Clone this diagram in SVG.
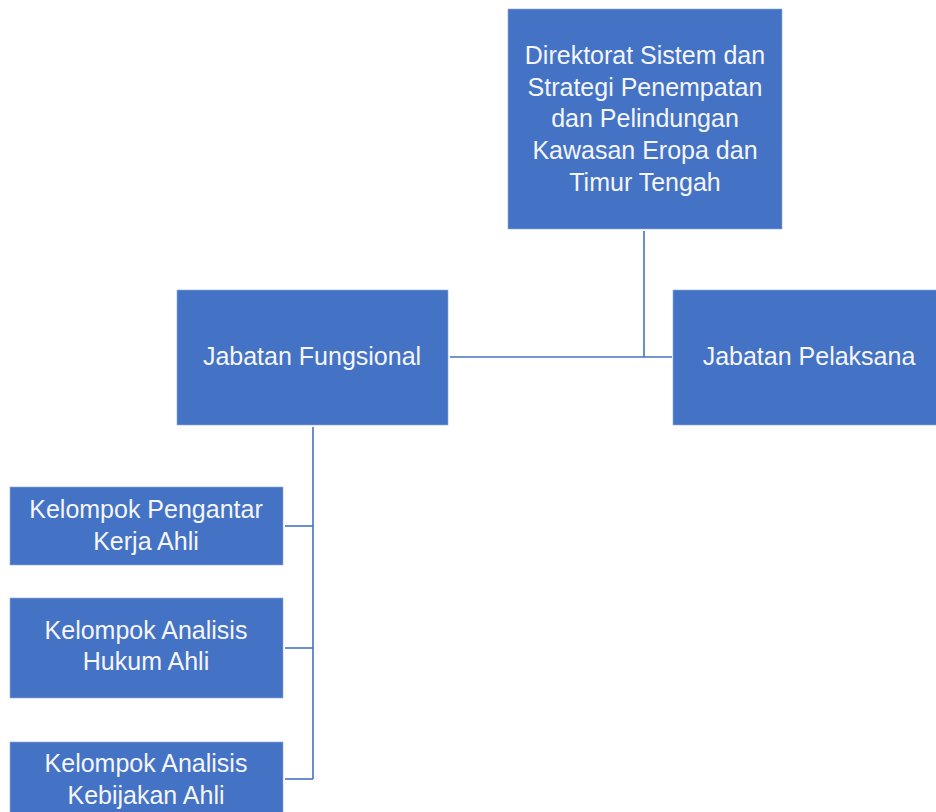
<svg xmlns="http://www.w3.org/2000/svg" width="936" height="812" viewBox="0 0 936 812">
<style>
.box{fill:#4472C4;stroke:#8FAADC;stroke-width:0.6}
.t{font-family:"Liberation Sans","Noto Sans",Arial,sans-serif;font-size:25px;fill:#F4F6FB;text-anchor:middle}
.c{fill:none;stroke:#4472C4;stroke-width:1.6}
</style>
<rect width="936" height="812" fill="#FFFFFF"/>
<g id="connectors">
<path class="c" d="M644 231 V357"/>
<path class="c" d="M450 357 H672"/>
<path class="c" d="M313 427 V779"/>
<path class="c" d="M285 526 H313"/>
<path class="c" d="M285 648 H313"/>
<path class="c" d="M285 779 H313"/>
</g>
<g id="direktorat">
<rect class="box" x="508" y="9" width="274" height="220"/>
<text class="t" x="645" y="64">Direktorat Sistem dan</text>
<text class="t" x="645" y="96">Strategi Penempatan</text>
<text class="t" x="645" y="127">dan Pelindungan</text>
<text class="t" x="645" y="159">Kawasan Eropa dan</text>
<text class="t" x="645" y="191">Timur Tengah</text>
</g>
<g id="fungsional">
<rect class="box" x="177" y="290" width="271" height="135"/>
<text class="t" x="312" y="365">Jabatan Fungsional</text>
</g>
<g id="pelaksana">
<rect class="box" x="673" y="290" width="270" height="135"/>
<text class="t" x="809" y="365">Jabatan Pelaksana</text>
</g>
<g id="pengantar">
<rect class="box" x="10" y="487" width="273" height="78"/>
<text class="t" x="146" y="518">Kelompok Pengantar</text>
<text class="t" x="146" y="550">Kerja Ahli</text>
</g>
<g id="hukum">
<rect class="box" x="10" y="598" width="273" height="100"/>
<text class="t" x="146" y="639">Kelompok Analisis</text>
<text class="t" x="146" y="670">Hukum Ahli</text>
</g>
<g id="kebijakan">
<rect class="box" x="10" y="742" width="273" height="90"/>
<text class="t" x="146" y="772">Kelompok Analisis</text>
<text class="t" x="146" y="804">Kebijakan Ahli</text>
</g>
</svg>
